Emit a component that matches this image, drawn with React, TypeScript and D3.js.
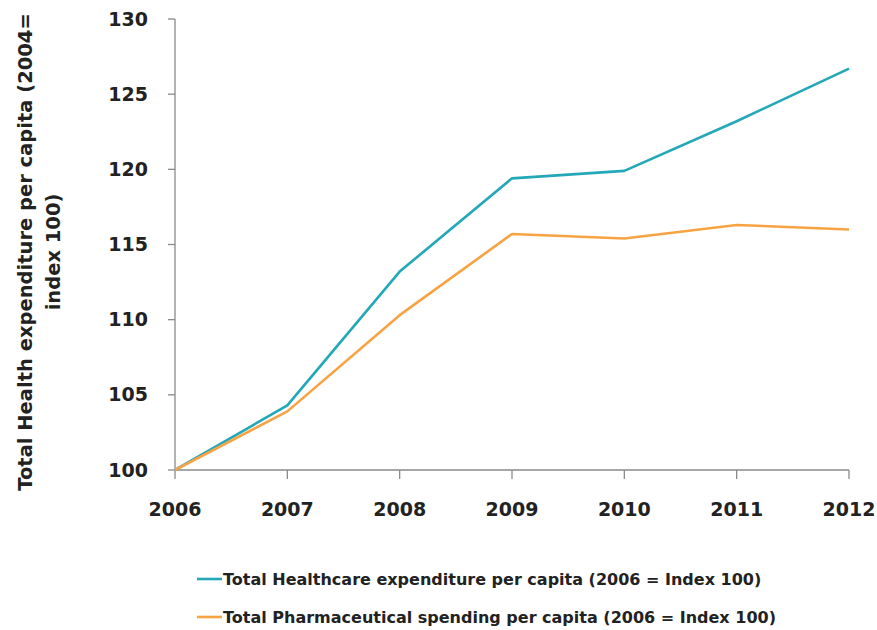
import React from "react";
import * as d3 from "d3";

const years = [2006, 2007, 2008, 2009, 2010, 2011, 2012];
const healthcare = [100, 104.3, 113.2, 119.4, 119.9, 123.2, 126.7];
const pharma = [100, 103.9, 110.3, 115.7, 115.4, 116.3, 116.0];
const yTicks = [100, 105, 110, 115, 120, 125, 130];
const seriesNames = [
  "Total Healthcare expenditure per capita (2006 = Index 100)",
  "Total Pharmaceutical spending per capita (2006 = Index 100)",
];
const colors = ["#22a8b8", "#f8a343"];

export default function App() {
  const W = 877, H = 630;
  const x = d3.scaleLinear().domain([2006, 2012]).range([175, 849]);
  const y = d3.scaleLinear().domain([100, 130]).range([470, 19]);
  const line = d3
    .line<number>()
    .x((_, i) => x(years[i]))
    .y((d) => y(d));
  const font = "'DejaVu Sans', sans-serif";
  const series = [healthcare, pharma];
  return (
    <svg width={W} height={H} style={{ position: "absolute", left: 0, top: 0 }} fontFamily={font}>
      <rect width={W} height={H} fill="#fff" />
      {/* y axis */}
      <line x1={175} x2={175} y1={y(130)} y2={y(100)} stroke="#8a8a8a" strokeWidth={1.3} />
      {yTicks.map((t) => (
        <g key={t}>
          <line x1={168} x2={175} y1={y(t)} y2={y(t)} stroke="#8a8a8a" strokeWidth={1.3} />
          <text x={148} y={y(t)} dy="0.35em" textAnchor="end" fontSize={19} fontWeight={700} fill="#222">
            {t}
          </text>
        </g>
      ))}
      {/* x axis */}
      <line x1={x(2006)} x2={x(2012)} y1={470} y2={470} stroke="#8a8a8a" strokeWidth={1.3} />
      {years.map((yr) => (
        <g key={yr}>
          <line x1={x(yr)} x2={x(yr)} y1={470} y2={479} stroke="#8a8a8a" strokeWidth={1.3} />
          <text x={x(yr)} y={516} textAnchor="middle" fontSize={19} fontWeight={700} fill="#222">
            {yr}
          </text>
        </g>
      ))}
      {/* y title */}
      <g transform="translate(32,252) rotate(-90)">
        <text x={0} y={0} textAnchor="middle" fontSize={19.5} fontWeight={700} fill="#222">
          Total Health expenditure per capita (2004=
        </text>
        <text x={0} y={28} textAnchor="middle" fontSize={19.5} fontWeight={700} fill="#222">
          index 100)
        </text>
      </g>
      {/* lines */}
      {series.map((s, i) => (
        <path key={i} d={line(s) || ""} fill="none" stroke={colors[i]} strokeWidth={2.6} strokeLinejoin="round" />
      ))}
      {/* legend */}
      {seriesNames.map((n, i) => (
        <g key={n} transform={`translate(0,${579 + i * 38})`}>
          <line x1={197} x2={222} y1={0} y2={0} stroke={colors[i]} strokeWidth={2.6} />
          <text x={223} y={0} dy="0.35em" fontSize={16} fontWeight={700} fill="#222">
            {n}
          </text>
        </g>
      ))}
    </svg>
  );
}
